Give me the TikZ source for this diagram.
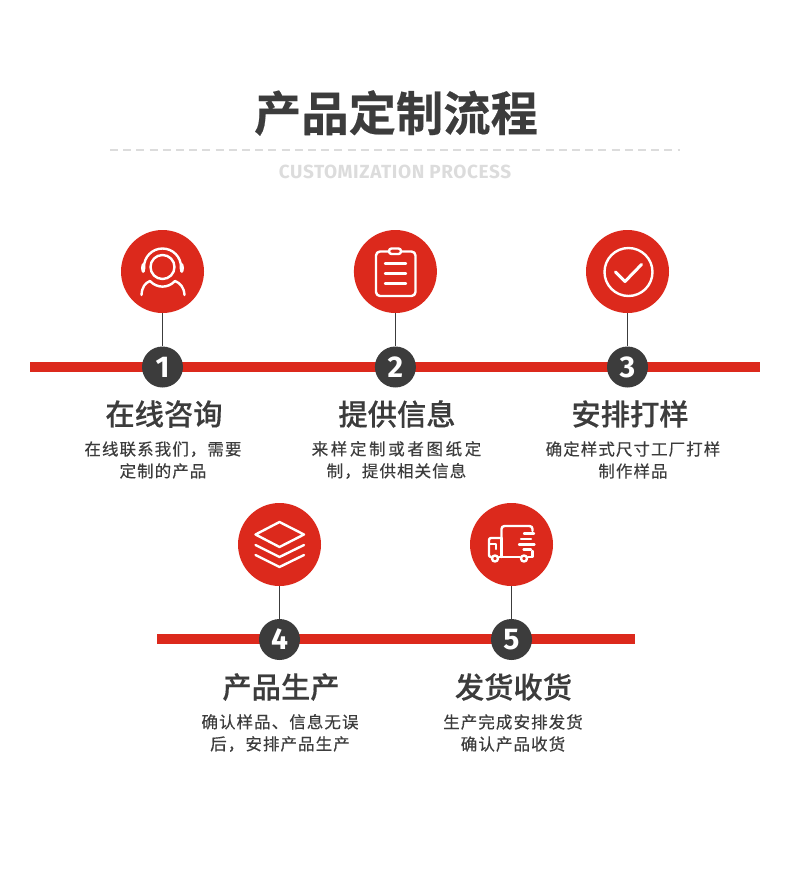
\documentclass[tikz,border=0pt]{standalone}
\usepackage{fontspec}
\setmainfont{Noto Sans CJK SC}
\newfontfamily\titlefont{Noto Sans CJK SC Bold}[FakeBold=0.4]
\newfontfamily\subfont{Fira Sans Bold}[LetterSpace=3]
\newfontfamily\headfont{Noto Sans CJK SC Medium}[FakeBold=0.3]
\newfontfamily\descfont{Noto Sans CJK SC}[LetterSpace=6.5,FakeBold=0.4]
\newfontfamily\widefont{Noto Sans CJK SC}[LetterSpace=16,FakeBold=0.4]
\newfontfamily\numfont{Fira Sans Bold}
\definecolor{mainred}{HTML}{DC291C}
\definecolor{darkgray}{HTML}{3C3C3C}
\definecolor{palegray}{HTML}{DCDCDC}
\tikzset{
  iconcircle/.style={circle,fill=mainred,minimum size=83pt,inner sep=0pt},
  numcircle/.style={circle,fill=darkgray,text=white,minimum size=41pt,inner sep=0pt,font=\numfont\fontsize{30}{30}\selectfont},
  headtext/.style={text=darkgray,inner sep=0pt,font=\headfont\fontsize{29.3}{29.3}\selectfont},
  desctext/.style={text=darkgray,inner sep=0pt,align=center,font=\descfont\fontsize{16.5}{22}\selectfont},
  redbar/.style={draw=mainred,line width=10pt},
  stem/.style={draw=darkgray,line width=1.1pt},
  iconline/.style={draw=white,line width=2.4pt,line cap=round,line join=round}
}
\begin{document}
\begin{tikzpicture}[x=1pt,y=-1pt]
    \useasboundingbox (0,0) rectangle (790,887);

    \node[text=darkgray,inner sep=0pt,font=\titlefont\fontsize{47.3}{47.3}\selectfont] (title) at (396,113){产品定制流程};
    \coordinate (dashl) at (110,150);
    \coordinate (dashr) at (680,150);
    \draw[palegray,line width=1.5pt,dash pattern=on 8pt off 5.2pt] (dashl) -- (dashr);
    \node[text=palegray,inner sep=0pt,font=\subfont\fontsize{19}{19}\selectfont] (subtitle) at (395,172){CUSTOMIZATION PROCESS};

    \coordinate (barAl) at (30,367);
    \coordinate (barAr) at (760,367);
    \coordinate (barBl) at (157,639);
    \coordinate (barBr) at (635,639);
    \draw[redbar] (barAl) -- (barAr);
    \draw[redbar] (barBl) -- (barBr);

    \node[iconcircle] (icon1) at (162.5,271.5){};
    \node[iconcircle] (icon2) at (395.4,271.5){};
    \node[iconcircle] (icon3) at (627.5,271.5){};
    \node[iconcircle] (icon4) at (279.5,544.5){};
    \node[iconcircle] (icon5) at (511.5,544.5){};

    \node[numcircle] (num1) at (162.5,367){1};
    \node[numcircle] (num2) at (395.4,367){2};
    \node[numcircle] (num3) at (627.5,367){3};
    \node[numcircle] (num4) at (279.5,639.5){4};
    \node[numcircle] (num5) at (511.5,639.5){5};

    \draw[stem] (icon1) -- (num1);
    \draw[stem] (icon2) -- (num2);
    \draw[stem] (icon3) -- (num3);
    \draw[stem] (icon4) -- (num4);
    \draw[stem] (icon5) -- (num5);

    \node[headtext] (head1) at (164,414){在线咨询};
    \node[headtext] (head2) at (397,414){提供信息};
    \node[headtext] (head3) at (630,414){安排打样};
    \node[headtext] (head4) at (281,687){产品生产};
    \node[headtext] (head5) at (513.5,687){发货收货};

    \node[desctext] (desc1) at (163,460){在线联系我们，需要\\定制的产品};
    \node[desctext] (desc2) at (396.5,460){{\widefont 来样定制或者图纸定}\\制，提供相关信息};
    \node[desctext] (desc3) at (633,460){确定样式尺寸工厂打样\\制作样品};
    \node[desctext] (desc4) at (280,733){确认样品、信息无误\\后，安排产品生产};
    \node[desctext] (desc5) at (513,733){生产完成安排发货\\确认产品收货};

    % person with headset
    \draw[iconline] (162.5,267) circle (12);
    \draw[iconline] (144,267) arc (180:360:18.5);
    \draw[iconline] (141.5,295) .. controls (142,287) and (145,283) .. (150,281) .. controls (157,288.5) and (168,288.5) .. (175,281) .. controls (180,283) and (184,287) .. (184.5,295);
    \fill[white] (143.2,268) ellipse (2.2 and 5);
    \fill[white] (181.8,268) ellipse (2.2 and 5);

    % clipboard
    \draw[iconline,rounded corners=4pt] (389,251.5) -- (376,251.5) -- (376,296) -- (415.5,296) -- (415.5,251.5) -- (401,251.5);
    \draw[iconline,rounded corners=2.5pt] (389,248.5) rectangle (401,254);
    \draw[iconline] (385,263.5) -- (406,263.5);
    \draw[iconline] (385,273.5) -- (406,273.5);
    \draw[iconline] (385,283.5) -- (406,283.5);

    % check mark
    \draw[iconline] (628.5,272) circle (24);
    \draw[iconline,line width=3pt] (615.5,272) -- (625,281.5) -- (641.5,264.5);

    % layers
    \draw[iconline] (255.5,534.5) -- (279.5,522) -- (304,534.5) -- (279.5,547) -- cycle;
    \draw[iconline] (255.5,545) -- (279.5,557) -- (304,545);
    \draw[iconline] (255.5,555) -- (279.5,567) -- (304,555);

    % truck
    \draw[iconline,rounded corners=3pt] (501.5,538) -- (501.5,526) -- (532.5,526) -- (532.5,531);
    \draw[iconline,rounded corners=2pt] (501.5,538) -- (489,538) -- (489,557) -- (491,557);
    \draw[iconline] (501.5,538) -- (501.5,557);
    \draw[iconline] (490,544) -- (496,544) -- (496,549);
    \draw[iconline] (499,557) -- (520,557);
    \draw[iconline] (528,557) -- (532.5,557) -- (532.5,551);
    \draw[iconline] (495,558.5) circle (3);
    \draw[iconline] (524,558.5) circle (3);
    \draw[iconline] (524,533.5) -- (534,533.5);
    \draw[iconline] (521,539) -- (531,539);
    \draw[iconline] (519,544.5) -- (534.5,544.5);
    \draw[iconline] (523.5,549.5) -- (531,549.5);
\end{tikzpicture}
\end{document}
